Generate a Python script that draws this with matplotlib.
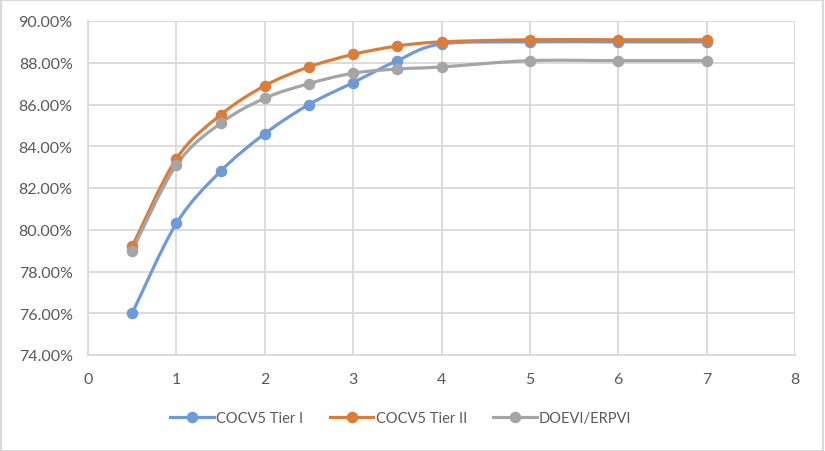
import numpy as np
import matplotlib
matplotlib.use("Agg")
import matplotlib.pyplot as plt
from matplotlib.path import Path
from matplotlib.patches import PathPatch, Rectangle
from matplotlib.ticker import PercentFormatter
from matplotlib.lines import Line2D

# Data
x_vals = [0.5, 1, 1.5, 2, 2.5, 3, 3.5, 4, 5, 6, 7]
tier_1 = [76.0, 80.3, 82.8, 84.6, 86.0, 87.05, 88.1, 88.9, 89.0, 89.0, 89.0]
tier_2 = [79.2, 83.4, 85.5, 86.9, 87.8, 88.4, 88.8, 89.0, 89.1, 89.1, 89.1]
doevi = [79.0, 83.1, 85.1, 86.3, 87.0, 87.5, 87.7, 87.8, 88.1, 88.1, 88.1]

series_names = ["COCV5 Tier I", "COCV5 Tier II", "DOEVI/ERPVI"]
series_colors = ["#6E9BD6", "#DA7D3A", "#A5A5A5"]

x_ticks = [0, 1, 2, 3, 4, 5, 6, 7, 8]
y_ticks = [74, 76, 78, 80, 82, 84, 86, 88, 90]

plt.rcParams['font.family'] = ['Lato', 'DejaVu Sans']


def smooth_path(xs, ys, tension=1 / 6):
    # Excel-style smoothed line: Catmull-Rom segments as cubic Bezier curves
    xs = np.asarray(xs, float)
    ys = np.asarray(ys, float)
    n = len(xs)
    verts = [(xs[0], ys[0])]
    codes = [Path.MOVETO]
    for i in range(n - 1):
        p0 = np.array([xs[max(i - 1, 0)], ys[max(i - 1, 0)]])
        p1 = np.array([xs[i], ys[i]])
        p2 = np.array([xs[i + 1], ys[i + 1]])
        p3 = np.array([xs[min(i + 2, n - 1)], ys[min(i + 2, n - 1)]])
        c1 = p1 + (p2 - p0) * tension
        c2 = p2 - (p3 - p1) * tension
        verts += [tuple(c1), tuple(c2), tuple(p2)]
        codes += [Path.CURVE4] * 3
    return Path(verts, codes)


fig = plt.figure(figsize=(8.25, 4.52), dpi=100)
ax = fig.add_axes([88 / 825, 1 - 356 / 452, (795 - 88) / 825, (356 - 22) / 452])

for ys, name, color in zip([tier_1, tier_2, doevi], series_names, series_colors):
    patch = PathPatch(smooth_path(x_vals, ys), facecolor="none", edgecolor=color,
                      linewidth=2.3, capstyle="round", joinstyle="round", zorder=3)
    ax.add_patch(patch)
    ax.plot(x_vals, ys, linestyle="none", marker="o", markersize=7.3,
            color=color, zorder=4)

ax.set_xlim(0, 8)
ax.set_ylim(74, 90)
ax.set_xticks(x_ticks)
ax.set_yticks(y_ticks)
ax.yaxis.set_major_formatter(PercentFormatter(decimals=2))
ax.grid(True, color="#D9D9D9", linewidth=1.3, zorder=0)
ax.set_axisbelow(True)
for side in ["top", "right"]:
    ax.spines[side].set_visible(False)
for side in ["left", "bottom"]:
    ax.spines[side].set_color("#D9D9D9")
    ax.spines[side].set_linewidth(1.3)
ax.tick_params(length=0, labelsize=11.5, labelcolor="#595959", pad=11)
ax.tick_params(axis="x", pad=12)

handles = [Line2D([0], [0], color=c, linewidth=2.3, marker="o", markersize=7.3)
           for c in series_colors]
fig.legend(handles, series_names, loc="center", bbox_to_anchor=(401 / 825, 1 - 419 / 452),
           ncol=3, frameon=False, fontsize=10.5, labelcolor="#595959",
           handlelength=3.0, columnspacing=1.8, handletextpad=0.15)

# light outer border like the Excel chart area
fig.patches.append(Rectangle((0.001, 0.001), 0.997, 0.996, transform=fig.transFigure,
                             fill=False, edgecolor="#D9D9D9", linewidth=1.5))

fig.savefig("out.png", dpi=100)
